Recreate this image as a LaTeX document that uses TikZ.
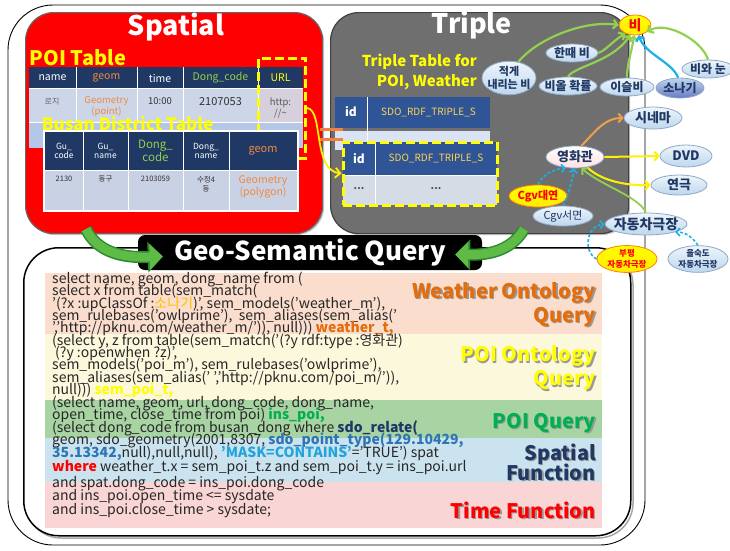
\documentclass[tikz,border=0pt]{standalone}
\usepackage{fontspec}
\setmainfont{Noto Sans CJK KR}
\usetikzlibrary{shapes.geometric,arrows.meta,calc,shadows}

\definecolor{navyhd}{HTML}{1F3864}
\definecolor{bluehd}{HTML}{2F5597}
\definecolor{poirow}{HTML}{CDD5E9}
\definecolor{poirow2}{HTML}{B4C7E7}
\definecolor{urlrow}{HTML}{D6D0DC}
\definecolor{busrow}{HTML}{C9D1E4}
\definecolor{tripgray}{HTML}{6F6F6F}
\definecolor{triprow}{HTML}{DAE3F3}
\definecolor{triprow2}{HTML}{D6DCE5}
\definecolor{hdorange}{HTML}{F08A3C}
\definecolor{hdgreen}{HTML}{92D050}
\definecolor{sdoyel}{HTML}{FFD34F}
\definecolor{yel}{HTML}{FFFF00}
\definecolor{bandW}{HTML}{FADDCD}
\definecolor{bandO}{HTML}{FCF8DC}
\definecolor{bandQ}{HTML}{A8D3A3}
\definecolor{bandS}{HTML}{CBE3EF}
\definecolor{bandT}{HTML}{F9D5D5}
\definecolor{lblW}{HTML}{E46C0A}
\definecolor{lblQ}{HTML}{00B050}
\definecolor{sqlblue}{HTML}{2E75B6}
\definecolor{sqlcyan}{HTML}{1FA5DC}
\definecolor{sonagi}{HTML}{FFC000}
\definecolor{ontotop}{HTML}{EEF5FB}
\definecolor{ontobot}{HTML}{BDD7EE}
\definecolor{ontoedge}{HTML}{8EA9C8}
\definecolor{cyanedge}{HTML}{1CB0E8}
\definecolor{grnedge}{HTML}{92D050}
\definecolor{orgedge}{HTML}{F0A04B}
\definecolor{bigarrow}{HTML}{5DBB46}
\definecolor{bigarrowdk}{HTML}{2F8A2F}

% text with a soft drop shadow: name, position, colour, text
\newcommand\shadowlabel[4]{%
  \node[bandlbl, text=black!40] (#1-sh) at ($(#2)+(1.3,1.3)$) {#4};
  \node[bandlbl, text=#3] (#1) at (#2) {#4};}
\newcommand\nowide[1]{\makebox[0pt]{#1}}

\begin{document}
\begin{tikzpicture}[x=1pt,y=-1pt,
  panel/.style={draw=black!60, line width=1.2pt, rounded corners=28pt, inner sep=0pt,
    drop shadow={shadow xshift=1.5pt, shadow yshift=-1.5pt, opacity=0.45}},
  ptitle/.style={text=white, font=\bfseries\fontsize{27}{27}\selectfont, inner sep=0pt},
  ylabel/.style={text=yel, font=\bfseries\fontsize{#1}{#1}\selectfont, inner sep=0pt},
  hd/.style={inner sep=0pt, text=white, font=\fontsize{10.5}{11}\selectfont, align=center},
  td/.style={inner sep=0pt, text=black!80, font=\fontsize{9.5}{11}\selectfont, align=center},
  ydash/.style={draw=yel, line width=3pt, dash pattern=on 9pt off 4pt, inner sep=0pt},
  onto/.style={ellipse, draw=ontoedge, line width=0.8pt, top color=ontotop, bottom color=ontobot,
    inner sep=0pt, text=navyhd, font=\bfseries\fontsize{12}{12}\selectfont},
  ontoy/.style={draw=orange, top color=yel, bottom color=yel!85!orange, text=red},
  ontob/.style={top color=ontobot, bottom color=ontobot!70!blue!80!black},
  ontop/.style={top color=white, bottom color=red!12},
  gedge/.style={draw=grnedge, line width=2.2pt, -{Straight Barb[length=4pt,width=9pt]}},
  cedge/.style={draw=cyanedge, line width=2.2pt, -{Straight Barb[length=4pt,width=9pt]}},
  oedge/.style={draw=orgedge, line width=2pt, -{Straight Barb[length=4pt,width=9pt]}},
  yedge/.style={draw=yel!90!orange, line width=2pt, -{Straight Barb[length=4pt,width=9pt]}},
  dedge/.style={draw=cyanedge, line width=1.6pt, dash pattern=on 3pt off 2pt,
    -{Straight Barb[length=3.5pt,width=8pt]}},
  bigarr/.style={draw=bigarrow, line width=9pt, -{Triangle[length=13pt,width=25pt]},
    preaction={draw=bigarrowdk, line width=12pt, -{Triangle[length=15pt,width=30pt]}}},
  sql/.style={anchor=west, inner sep=0pt, text=black!85,
    font=\fontsize{14}{14}\selectfont, text height=10pt, text depth=3pt},
  bandlbl/.style={anchor=east, align=right, inner sep=0pt,
    font=\bfseries\fontsize{20}{24}\selectfont}]

\useasboundingbox (0,0) rectangle (730,550);
\fill[white] (0,0) rectangle (730,550);

% outer frame
\draw[black, line width=0.9pt, rounded corners=45pt] (8,5) rectangle (645,545);

% ---------- Spatial panel ----------
\node[panel, fill=red, minimum width=297, minimum height=221, anchor=north west] (spatial) at (25,12) {};
\node[ptitle] (sptitle) at (176,27) {Spatial};
\node[ylabel=20] (poilbl) at (78,58) {POI Table};

% POI table
\fill[navyhd] (29,67) rectangle (303,88);
\fill[poirow] (29,88) rectangle (303,122);
\fill[urlrow] (258,88) rectangle (303,122);
\fill[poirow2] (29,122) rectangle (303,148);
\draw[white, line width=1pt] (76,67)--(76,122) (137,67)--(137,122) (183,67)--(183,122)
  (258,67)--(258,148) (29,88)--(303,88) (29,122)--(303,122);
\node[hd] (h-name) at (52.5,78) {name};
\node[hd, text=hdorange] (h-geom) at (106.5,78) {geom};
\node[hd] (h-time) at (160,78) {time};
\node[hd, text=hdgreen] (h-dong) at (220.5,78) {Dong\_code};
\node[hd, text=yel] (h-url) at (280.5,78) {URL};
\node[td, text=black!60, font=\fontsize{8}{9}\selectfont] (d-name) at (52,101) {로지};
\node[td, text=hdorange] (d-geom) at (106.5,107) {Geometry\\(point)};
\node[td] (d-time) at (160,101) {10:00};
\node[td, font=\fontsize{11}{12}\selectfont] (d-dong) at (220.5,102) {2107053};
\node[td, text=black!65] (d-url) at (280.5,108) {http:\\//\textasciitilde};

% URL column highlight
\node[ydash, minimum width=47, minimum height=100] (urlbox) at (282,108) {};

% Busan district table
\fill[white] (43,130) rectangle (299,212);
\fill[navyhd] (45,132) rectangle (297,170);
\fill[busrow] (45,170) rectangle (297,210);
\draw[white, line width=1pt] (83,132)--(83,210) (128,132)--(128,210) (183,132)--(183,210)
  (229,132)--(229,210) (45,170)--(297,170);
\node[hd, font=\fontsize{8.5}{9.5}\selectfont] (b-gc) at (64,151) {Gu\_\\code};
\node[hd, font=\fontsize{8.5}{9.5}\selectfont] (b-gn) at (105.5,151) {Gu\_\\name};
\node[hd, text=hdgreen, font=\fontsize{11.5}{12}\selectfont] (b-dc) at (155.5,151) {Dong\_\\code};
\node[hd, font=\fontsize{8.5}{9.5}\selectfont] (b-dn) at (206,151) {Dong\_\\name};
\node[hd, text=hdorange, font=\fontsize{11}{12}\selectfont] (b-geom) at (263,151) {geom};
\node[td, font=\fontsize{7.5}{9}\selectfont] (e-gc) at (64,179) {2130};
\node[td, font=\fontsize{7.5}{9}\selectfont] (e-gn) at (105.5,179) {동구};
\node[td, font=\fontsize{7.5}{9}\selectfont] (e-dc) at (155.5,179) {2103059};
\node[td, font=\fontsize{7.5}{9}\selectfont] (e-dn) at (206,184) {수정4\\동};
\node[td, text=hdorange, font=\fontsize{10.5}{11}\selectfont] (e-geom) at (263,187) {Geometry\\(polygon)};
\node[ylabel=17] (buslbl) at (127.5,124) {Busan District Table};

% ---------- Triple panel ----------
\node[panel, fill=tripgray, draw=black!75, minimum width=298, minimum height=221, anchor=north west] (triple) at (330,12) {};
\node[ptitle] (trtitle) at (472,25) {Triple};
\node[ylabel=15, align=right, anchor=east, font=\bfseries\fontsize{15}{20}\selectfont]
  (trlbl) at (477,72) {Triple Table for\\POI, Weather};

\fill[bluehd] (335,97) rectangle (490,128);
\fill[triprow] (335,131) rectangle (490,150);
\draw[white, line width=1pt] (367,97)--(367,150);
\node[hd, font=\bfseries\fontsize{12}{12}\selectfont] (t1-id) at (351,112) {id};
\node[hd, text=sdoyel, font=\fontsize{10}{10}\selectfont] (t1-s) at (428.5,112) {SDO\_RDF\_TRIPLE\_S};

\fill[bluehd] (343,142) rectangle (497,175);
\fill[triprow2] (343,175) rectangle (497,205);
\draw[white, line width=1pt] (375,142)--(375,205) (343,175)--(497,175);
\node[hd, font=\bfseries\fontsize{12}{12}\selectfont] (t2-id) at (359,158.5) {id};
\node[hd, text=sdoyel, font=\fontsize{10}{10}\selectfont] (t2-s) at (436,158.5) {SDO\_RDF\_TRIPLE\_S};
\node[td, font=\bfseries\fontsize{10}{10}\selectfont, text=black!70] (t2-d1) at (359,189) {...};
\node[td, font=\bfseries\fontsize{10}{10}\selectfont, text=black!70] (t2-d2) at (436,189) {...};
\node[ydash, minimum width=154, minimum height=63] (tt2) at (420,173.5) {};

% join between the URL column and the triple table
\draw[orgedge!80!red, line width=3pt] (320,129)--(343,129) (320,139)--(343,139);
\draw[yel!90!orange, line width=1.8pt, -{Straight Barb[length=5pt,width=10pt]}]
  (urlbox.east) .. controls (324,110) and (312,170) .. (tt2.west);

% ---------- query panel ----------
\draw[black!35, line width=1.5pt, rounded corners=35pt] (26,250) rectangle (633,538);
\node[draw=black, line width=1.5pt, fill=white, rounded corners=35pt, minimum width=607,
  minimum height=288, anchor=north west, inner sep=0pt] (qbox) at (23,247) {};

\fill[bandW] (45,273) rectangle (602,334);
\fill[bandO] (45,334) rectangle (602,400);
\fill[bandQ] (45,400) rectangle (602,438);
\fill[bandS] (45,438) rectangle (602,482);
\fill[bandT] (45,482) rectangle (602,528);

\node[sql] (q1) at (52,280) {select name, geom, dong\_name from (};
\node[sql] (q2) at (52,292.3) {select x from table(sem\_match(};
\node[sql] (q3) at (52,304.7) {'(?x :upClassOf :{\color{sonagi}소나기})', sem\_models('weather\_m'),};
\node[sql] (q4) at (52,317) {sem\_rulebases('owlprime'),\ \ sem\_aliases(sem\_alias('};
\node[sql] (q5) at (52,329.3) {','http://pknu.com/weather\_m/')), null))) {\color{lblW}\bfseries weather\_t,}};
\node[sql] (q6) at (52,341.7) {(select y, z from table(sem\_match('(?y rdf:type :영화관)};
\node[sql] (q7) at (55,354) {(?y :openwhen ?z)',};
\node[sql] (q8) at (52,366.3) {sem\_models('poi\_m'), sem\_rulebases('owlprime'),};
\node[sql] (q9) at (52,378.7) {sem\_aliases(sem\_alias(' ','http://pknu.com/poi\_m/')),};
\node[sql] (q10) at (52,391) {null))) {\color{yel}\bfseries sem\_poi\_t,}};
\node[sql] (q11) at (52,403.5) {(select name, geom, url, dong\_code, dong\_name,};
\node[sql] (q12) at (52,416) {open\_time, close\_time from poi) {\color{lblQ}\bfseries ins\_poi,}};
\node[sql] (q13) at (52,428.5) {(select dong\_code from busan\_dong where {\color{navyhd}\bfseries sdo\_relate(}};
\node[sql] (q14) at (52,441) {geom, sdo\_geometry(2001,8307, {\color{sqlblue}\bfseries sdo\_point\_type(129.10429,}};
\node[sql] (q15) at (52,454) {{\color{sqlblue}\bfseries 35.13342,}null),null,null), {\color{sqlcyan}\bfseries 'MASK=CONTAINS'}='TRUE') spat};
\node[sql] (q16) at (52,468) {{\color{red}\bfseries where} weather\_t.x = sem\_poi\_t.z and sem\_poi\_t.y = ins\_poi.url};
\node[sql] (q17) at (52,484) {and spat.dong\_code = ins\_poi.dong\_code};
\node[sql] (q18) at (52,497) {and ins\_poi.open\_time <= sysdate};
\node[sql] (q19) at (52,511) {and ins\_poi.close\_time > sysdate;};

\shadowlabel{lbl-w}{596,304.5}{lblW}{Weather Ontology\\Query}
\shadowlabel{lbl-o}{596,368}{yel}{POI Ontology\\Query}
\shadowlabel{lbl-q}{596,423}{lblQ}{POI Query}
\shadowlabel{lbl-s}{596,462.5}{navyhd}{Spatial\\[-4pt]Function}
\shadowlabel{lbl-t}{596,510}{red}{Time Function}

% ---------- ontology graph ----------
\node[onto, ontoy, minimum width=32, minimum height=20, font=\bfseries\fontsize{14}{14}\selectfont] (bi) at (635,25) {\nowide{비}};
\node[onto, minimum width=52, minimum height=18] (handae) at (572,53) {\nowide{한때 비}};
\node[onto, minimum width=54, minimum height=30, font=\bfseries\fontsize{11}{12}\selectfont] (jeokge) at (509,78) {\nowide{\shortstack{적게\\내리는 비}}};
\node[onto, minimum width=58, minimum height=18] (biol) at (568,86) {\nowide{비올 확률}};
\node[onto, minimum width=54, minimum height=18] (iseul) at (627,87) {\nowide{이슬비}};
\node[onto, ontob, minimum width=48, minimum height=20] (sonagi) at (680,88) {\nowide{소나기}};
\node[onto, minimum width=52, minimum height=18] (biwa) at (708,69) {\nowide{비와 눈}};
\node[onto, minimum width=58, minimum height=22, font=\bfseries\fontsize{13}{13}\selectfont] (cinema) at (653,118) {\nowide{시네마}};
\node[onto, ontop, minimum width=58, minimum height=22, font=\bfseries\fontsize{13}{13}\selectfont] (movie) at (575,157) {\nowide{영화관}};
\node[onto, minimum width=52, minimum height=22, font=\bfseries\fontsize{13}{13}\selectfont] (dvd) at (686,156) {\nowide{DVD}};
\node[onto, minimum width=56, minimum height=20, font=\bfseries\fontsize{13}{13}\selectfont] (play) at (679,185) {\nowide{연극}};
\node[onto, ontoy, minimum width=58, minimum height=22, font=\bfseries\fontsize{11}{11}\selectfont] (cgvd) at (538,196) {\nowide{Cgv대연}};
\node[onto, minimum width=60, minimum height=20, font=\fontsize{11}{11}\selectfont] (cgvs) at (563,216) {\nowide{Cgv서면}};
\node[onto, minimum width=82, minimum height=22, font=\bfseries\fontsize{14}{14}\selectfont] (drivein) at (646,224) {\nowide{자동차극장}};
\node[onto, ontoy, minimum width=60, minimum height=26, font=\bfseries\fontsize{8.5}{9.5}\selectfont] (bupyeong) at (627,259) {\nowide{\shortstack{부평\\자동차극장}}};
\node[onto, minimum width=60, minimum height=26, font=\bfseries\fontsize{8.5}{9.5}\selectfont] (eulsuk) at (698,259) {\nowide{\shortstack{을숙도\\자동차극장}}};

\draw[gedge] (jeokge.60) .. controls (538,38) and (585,20) .. (bi.west);
\draw[gedge] (handae.east) .. controls (606,50) and (612,42) .. (bi.220);
\draw[gedge] (biol.north) .. controls (575,66) and (612,62) .. (bi.245);
\draw[gedge] (iseul.north) .. controls (627,64) and (632,50) .. (bi.265);
\draw[cedge] (sonagi.100) .. controls (672,62) and (645,54) .. (bi.290);
\draw[gedge] (biwa.north) .. controls (702,40) and (665,20) .. (bi.330);
\draw[oedge] (movie.60) .. controls (598,128) and (606,118) .. (cinema.west);
\draw[yedge] (movie.east) -- (dvd.west);
\draw[yedge] (movie.320) .. controls (600,180) and (625,186) .. (play.west);
\draw[dedge] (cgvd.north) .. controls (541,178) and (548,170) .. (movie.230);
\draw[dedge] (cgvs.north) .. controls (568,196) and (572,182) .. (movie.265);
\draw[gedge, line width=1.8pt] (drivein.north) .. controls (638,196) and (602,186) .. (movie.300);
\draw[dedge] (bupyeong.west) .. controls (583,252) and (586,226) .. (drivein.west);
\draw[dedge] (eulsuk.north) .. controls (694,240) and (688,232) .. (drivein.south east);

% ---------- title bar and feeding arrows ----------
\node[fill=black, rounded corners=7pt, minimum width=344, minimum height=35, inner sep=0pt,
  text=white, font=\bfseries\fontsize{26}{26}\selectfont] (gsq) at (310,252.5) {Geo-Semantic Query};
\coordinate (spout) at (86,229);
\coordinate (trout) at (524,229);
\coordinate (gsqL) at ($(gsq.west)+(25,4)$);
\coordinate (gsqR) at ($(gsq.east)+(-27,2)$);
\draw[bigarr] (spout) .. controls (97,252) and (122,258) .. (gsqL);
\draw[bigarr] (trout) .. controls (512,250) and (490,255) .. (gsqR);
\end{tikzpicture}
\end{document}
